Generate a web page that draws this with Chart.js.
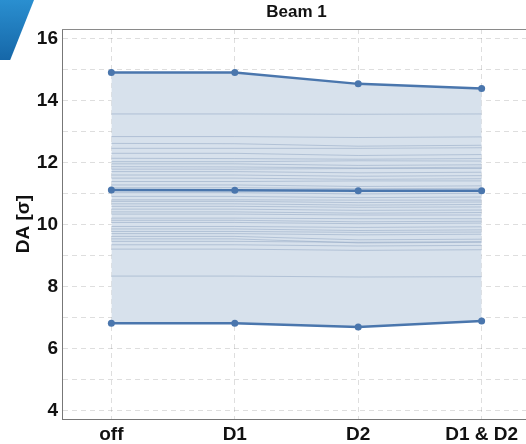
<!DOCTYPE html>
<html>
<head>
<meta charset="utf-8">
<script src="https://cdn.jsdelivr.net/npm/chart.js@4/dist/chart.umd.min.js"></script>
<style>
  html, body { margin: 0; padding: 0; background: #fff; overflow: hidden; }
  #wrap { position: relative; width: 526px; height: 444px; overflow: hidden; }
  #deco { position: absolute; left: 0; top: 0; width: 34px; height: 60px;
          background: linear-gradient(180deg, #2a8fd0, #1667a8);
          clip-path: polygon(0 0, 100% 0, 30% 100%, 0 100%); }
  canvas { position: absolute; left: 0; top: 0; }
</style>
</head>
<body>
<div id="wrap">
  <div id="deco"></div>
  <canvas id="chart" width="535" height="444"></canvas>
</div>
<script>
let labels = ["off", "D1", "D2", "D1 & D2"];
let xPos = [0, 1, 2, 3];

let maxDA = [14.90, 14.90, 14.53, 14.38];
let meanDA = [11.11, 11.10, 11.08, 11.08];
let minDA = [6.81, 6.81, 6.69, 6.88];

// single seeds, one value per configuration
let seedOff  = [13.56, 12.83, 12.61, 12.45, 12.29, 12.13, 12.02, 11.95, 11.86, 11.78, 11.70, 11.59, 11.49, 11.38, 11.27, 11.18, 11.02, 10.90, 10.79, 10.74, 10.66, 10.58, 10.49, 10.40, 10.33, 10.20, 10.13, 10.06, 9.93, 9.85, 9.77, 9.70, 9.61, 9.53, 9.45, 9.34, 9.20, 8.33];
let seedD1   = [13.56, 12.83, 12.60, 12.45, 12.29, 12.12, 12.02, 11.95, 11.85, 11.78, 11.70, 11.59, 11.49, 11.38, 11.27, 11.18, 11.02, 10.90, 10.79, 10.74, 10.66, 10.58, 10.49, 10.40, 10.33, 10.20, 10.13, 10.06, 9.93, 9.85, 9.77, 9.70, 9.61, 9.53, 9.45, 9.34, 9.20, 8.33];
let seedD2   = [13.55, 12.80, 12.52, 12.45, 12.22, 12.10, 12.05, 11.90, 11.82, 11.80, 11.66, 11.55, 11.45, 11.40, 11.22, 11.15, 10.98, 10.86, 10.78, 10.70, 10.62, 10.55, 10.45, 10.36, 10.30, 10.18, 10.08, 10.02, 9.90, 9.80, 9.74, 9.66, 9.50, 9.40, 9.42, 9.30, 9.16, 8.30];
let seedD1D2 = [13.56, 12.82, 12.55, 12.47, 12.25, 12.12, 12.04, 11.92, 11.84, 11.80, 11.68, 11.57, 11.47, 11.40, 11.24, 11.16, 11.00, 10.88, 10.78, 10.72, 10.64, 10.56, 10.46, 10.38, 10.30, 10.18, 10.10, 10.04, 9.92, 9.82, 9.75, 9.68, 9.52, 9.42, 9.44, 9.32, 9.18, 8.31];

let yTicks = [4, 5, 6, 7, 8, 9, 10, 11, 12, 13, 14, 15, 16];

const mainColor = "#4a76ad";
const font = '"Liberation Sans", Arial, sans-serif';

function pts(arr) {
  return arr.map((v, i) => ({ x: xPos[i], y: v }));
}

let datasets = [
  { data: pts(maxDA), borderColor: mainColor, backgroundColor: "#d7e1ec", borderWidth: 2.5,
    pointRadius: 3.5, pointBackgroundColor: mainColor, pointBorderWidth: 0, fill: 2 },
  { data: pts(meanDA), borderColor: mainColor, borderWidth: 2.5,
    pointRadius: 3.5, pointBackgroundColor: mainColor, pointBorderWidth: 0, fill: false },
  { data: pts(minDA), borderColor: mainColor, borderWidth: 2.5,
    pointRadius: 3.5, pointBackgroundColor: mainColor, pointBorderWidth: 0, fill: false }
];
seedOff.forEach((v, i) => {
  datasets.push({
    data: pts([seedOff[i], seedD1[i], seedD2[i], seedD1D2[i]]),
    borderColor: "rgba(140,162,192,0.5)", borderWidth: 1, pointRadius: 0, fill: false
  });
});

const extras = {
  id: "extras",
  afterDraw(chart) {
    const ctx = chart.ctx, ca = chart.chartArea;
    ctx.save();
    ctx.strokeStyle = "#8a8a8a";
    ctx.lineWidth = 1;
    ctx.beginPath();
    ctx.moveTo(ca.left, ca.top + 0.5);
    ctx.lineTo(ca.right, ca.top + 0.5);
    ctx.stroke();
    ctx.fillStyle = "#111";
    ctx.font = "bold 17px " + font;
    ctx.textAlign = "center";
    ctx.textBaseline = "middle";
    ctx.fillText("Beam 1", (ca.left + ca.right) / 2, 12);
    ctx.restore();
  }
};

new Chart(document.getElementById("chart"), {
  type: "line",
  data: { datasets: datasets },
  options: {
    responsive: false,
    animation: false,
    layout: { padding: { top: 29, left: 0, right: 0, bottom: 0 } },
    plugins: {
      legend: { display: false },
      tooltip: { enabled: false },
      filler: { drawTime: "beforeDatasetsDraw" }
    },
    scales: {
      x: {
        type: "linear", min: -0.4, max: 3.4,
        afterBuildTicks: s => { s.ticks = xPos.map(v => ({ value: v })); },
        afterFit: s => { s.height = 25; },
        ticks: { color: "#111", padding: 4, maxRotation: 0, autoSkip: false,
                 font: { family: font, size: 19, weight: "bold" },
                 callback: v => labels[xPos.indexOf(v)] },
        grid: { color: "rgba(0,0,0,0.13)", drawTicks: false },
        border: { color: "#777", dash: [5, 4] }
      },
      y: {
        min: 3.72, max: 16.3,
        afterBuildTicks: s => { s.ticks = yTicks.map(v => ({ value: v })); },
        afterFit: s => { s.width = 62; },
        ticks: { color: "#111", padding: 4, autoSkip: false,
                 font: { family: font, size: 19, weight: "bold" },
                 callback: v => (v % 2 === 0 ? v : "") },
        grid: { color: "rgba(0,0,0,0.13)", drawTicks: false },
        border: { color: "#777", dash: [5, 4] },
        title: { display: true, text: "DA [σ]", color: "#111", padding: { top: 12, bottom: 0 },
                 font: { family: font, size: 19, weight: "bold" } }
      }
    }
  },
  plugins: [extras]
});
</script>
</body>
</html>
